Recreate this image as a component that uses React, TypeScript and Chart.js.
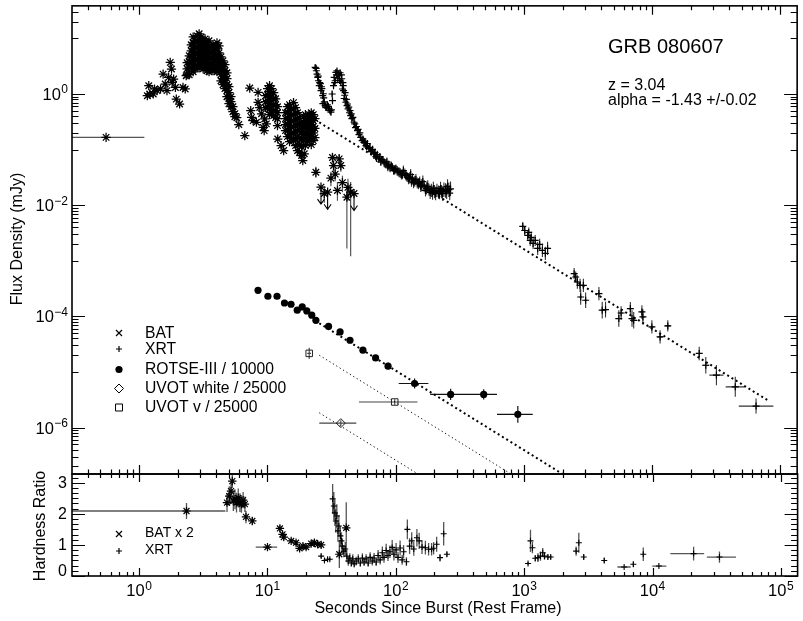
import React, { useEffect, useRef } from 'react';
import { Chart, registerables } from 'chart.js';

Chart.register(...registerables);

const FONT = '"Liberation Sans", Arial, Helvetica, sans-serif';
const W = 803;
const H = 621;

/* ---------------- axes ---------------- */
const timeMin = 0.3;
const timeMax = 1.35e5;
const timeMajorTicks = [1, 10, 100, 1e3, 1e4, 1e5];
const timeTickExponents = ['0', '1', '2', '3', '4', '5'];
const timeMinorMultipliers = [2, 3, 4, 5, 6, 7, 8, 9];

const fluxMin = 1.46e-7;
const fluxMax = 38.5;
const fluxMajorTicks = [1, 1e-2, 1e-4, 1e-6];
const fluxTickExponents = ['0', '\u22122', '\u22124', '\u22126'];
const fluxMinorDecades = [10, 0.1, 1e-3, 1e-5, 1e-7];

const hrMin = 0;
const hrMax = 3.28;
const hrMajorTicks = [0, 1, 2, 3];
const hrMinorSteps = 6;

/* ---------------- power-law decay fit ---------------- */
const fitAlpha = -1.43;
const fitAlphaErr = 0.02;
const redshift = 3.04;
const fitStart = 25.4; // s
const xrtFitNorm = 0.309; // mJy at fitStart
const xrtFitEnd = 7.9e4;
const rotseFitNorm = 0.752; // mJy at fitStart
const uvotVFitNorm = 0.5;
const uvotWhiteFitNorm = 0.046;
const opticalFitEnd = 1e5;

const rotseScale = 10000;
const uvotScale = 25000;
const batHardnessScale = 2;

/* ---------------- BAT flux (t [s], F [mJy]) ---------------- */
const batEarliest = { t: 0.553, tLo: 0.2, tHi: 1.1, flux: 0.166 };

const batFlux: [number, number][] = [
  [1.16, 0.93], [1.19, 1.41], [1.21, 1.0], [1.29, 1.0], [1.32, 1.23], [1.38, 1.15], [1.47, 1.23],
  [1.54, 2.28], [1.6, 1.51], [1.65, 1.15], [1.7, 1.99], [1.75, 3.7], [1.79, 2.81], [1.81, 1.62],
  [1.86, 1.86], [1.92, 1.31], [1.95, 0.81], [2.07, 0.66], [2.2, 1.31], [2.29, 1.23], [2.33, 2.13],
  [2.37, 3.65], [2.37, 2.84], [2.37, 2.22],
  [2.46, 4.87], [2.46, 3.8], [2.46, 2.96], [2.46, 2.22],
  [2.55, 7.67], [2.55, 5.99], [2.55, 4.67], [2.55, 3.65], [2.55, 2.84],
  [2.64, 10.6], [2.64, 8.33], [2.64, 6.5], [2.64, 5.07], [2.64, 3.96], [2.64, 3.09], [2.64, 2.51],
  [2.74, 9.05], [2.74, 7.07], [2.74, 5.51], [2.74, 4.3], [2.74, 3.36], [2.74, 2.84],
  [2.84, 11.1], [2.84, 8.68], [2.84, 6.78], [2.84, 5.29], [2.84, 4.13], [2.84, 3.22],
  [2.94, 12.1], [2.94, 9.43], [2.94, 7.36], [2.94, 5.75], [2.94, 4.48], [2.94, 3.5], [2.94, 2.96],
  [3.05, 10.6], [3.05, 8.33], [3.05, 6.5], [3.05, 5.07], [3.05, 3.96], [3.05, 3.09],
  [3.16, 9.05], [3.16, 7.07], [3.16, 5.51], [3.16, 4.3], [3.16, 3.36], [3.16, 2.84],
  [3.27, 9.8], [3.27, 7.67], [3.27, 5.99], [3.27, 4.67], [3.27, 3.65], [3.27, 2.96],
  [3.39, 8.33], [3.39, 6.5], [3.39, 5.07], [3.39, 3.96], [3.39, 3.09], [3.39, 2.62],
  [3.51, 9.05], [3.51, 7.07], [3.51, 5.51], [3.51, 4.3], [3.51, 3.36], [3.51, 2.51],
  [3.64, 7.36], [3.64, 5.75], [3.64, 4.48], [3.64, 3.5], [3.64, 2.84],
  [3.77, 7.67], [3.77, 5.99], [3.77, 4.67], [3.77, 3.65], [3.77, 2.62],
  [3.91, 6.78], [3.91, 5.29], [3.91, 4.13], [3.91, 3.22], [3.91, 2.73],
  [4.05, 8.33], [4.05, 6.5], [4.05, 5.07], [4.05, 3.96], [4.05, 3.09], [4.05, 2.51],
  [4.2, 7.36], [4.2, 5.51], [4.2, 4.3], [4.2, 3.36], [4.2, 2.73],
  [4.35, 4.67], [4.35, 3.65], [4.35, 2.84], [4.35, 2.22], [4.35, 1.73],
  [4.51, 3.96], [4.51, 3.09], [4.51, 2.41], [4.51, 1.88], [4.51, 1.47],
  [4.67, 3.36], [4.67, 2.62], [4.67, 2.05], [4.67, 1.59], [4.67, 1.25],
  [4.84, 2.41], [4.84, 1.88], [4.84, 1.47], [4.84, 1.15], [4.84, 0.894],
  [5.02, 1.35], [5.02, 1.06], [5.02, 0.82], [5.02, 0.67],
  [5.2, 0.894], [5.2, 0.73], [5.2, 0.59], [5.39, 0.59], [5.39, 0.48],
  [5.58, 0.443], [5.58, 0.39], [5.78, 0.375], [5.99, 0.282], [6.67, 0.178],
  [7.29, 1.28], [7.42, 0.501], [7.53, 0.38], [7.75, 0.332], [8.22, 0.31], [8.47, 1.07], [8.47, 0.71],
  [8.72, 0.57], [9.0, 0.44], [9.3, 0.25], [9.45, 0.219], [9.53, 0.355], [9.82, 0.29],
  [9.7, 0.932], [9.7, 0.73], [9.7, 0.57],
  [10.05, 1.25], [10.05, 0.971], [10.05, 0.758], [10.05, 0.59],
  [10.4, 1.41], [10.4, 1.1], [10.4, 0.858], [10.4, 0.67], [10.4, 0.523], [10.4, 0.425],
  [10.8, 1.25], [10.8, 0.971], [10.8, 0.758], [10.8, 0.59], [10.8, 0.46],
  [11.2, 1.06], [11.2, 0.82], [11.2, 0.644], [11.2, 0.501], [11.2, 0.408],
  [11.6, 0.82], [11.6, 0.644], [11.6, 0.501], [11.6, 0.375],
  [12.0, 0.59], [12.0, 0.46], [12.0, 0.361], [12.0, 0.27],
  [12.05, 0.155], [12.8, 0.118], [13.4, 0.096],
  [13.85, 0.46], [13.85, 0.361], [13.85, 0.282], [13.85, 0.219],
  [14.35, 0.59], [14.35, 0.46], [14.35, 0.361], [14.35, 0.282], [14.35, 0.219], [14.35, 0.171],
  [14.9, 0.644], [14.9, 0.501], [14.9, 0.39], [14.9, 0.306], [14.9, 0.24], [14.9, 0.186], [14.9, 0.139],
  [15.4, 0.545], [15.4, 0.425], [15.4, 0.332], [15.4, 0.259], [15.4, 0.2], [15.4, 0.157],
  [16.0, 0.7], [16.0, 0.545], [16.0, 0.425], [16.0, 0.332], [16.0, 0.259], [16.0, 0.2], [16.0, 0.145],
  [16.6, 0.568], [16.6, 0.443], [16.6, 0.346], [16.6, 0.27], [16.6, 0.21], [16.6, 0.157], [16.6, 0.118],
  [17.2, 0.46], [17.2, 0.361], [17.2, 0.282], [17.2, 0.219], [17.2, 0.164], [17.2, 0.123], [17.2, 0.096],
  [17.8, 0.361], [17.8, 0.282], [17.8, 0.219], [17.8, 0.164], [17.8, 0.123], [17.8, 0.0884],
  [18.5, 0.282], [18.5, 0.21], [18.5, 0.157], [18.5, 0.113], [18.5, 0.0781],
  [18.9, 0.0635], [19.4, 0.084],
  [19.1, 0.39], [19.1, 0.306], [19.1, 0.24], [19.1, 0.186], [19.1, 0.145],
  [19.8, 0.425], [19.8, 0.332], [19.8, 0.259], [19.8, 0.2], [19.8, 0.157], [19.8, 0.118],
  [20.5, 0.39], [20.5, 0.306], [20.5, 0.24], [20.5, 0.186], [20.5, 0.139],
  [21.3, 0.425], [21.3, 0.332], [21.3, 0.259], [21.3, 0.2], [21.3, 0.157],
  [22.0, 0.46], [22.0, 0.361], [22.0, 0.282], [22.0, 0.219], [22.0, 0.171], [22.0, 0.123],
  [22.8, 0.425], [22.8, 0.332], [22.8, 0.259], [22.8, 0.2], [22.8, 0.145],
  [23.5, 0.361], [23.5, 0.24], [23.5, 0.164],
];

// late BAT bins: t, F, F low, F high
const batLate: [number, number, number, number][] = [
  [23.9, 0.0391, 0.031, 0.049], [27.8, 0.0162, 0.011, 0.022], [31.3, 0.0307, 0.022, 0.04],
  [32.2, 0.072, 0.058, 0.088], [32.8, 0.0516, 0.04, 0.064], [33.8, 0.0362, 0.027, 0.047],
  [35.2, 0.0184, 0.012, 0.026], [36.3, 0.068, 0.055, 0.083], [37.4, 0.0516, 0.04, 0.064],
  [38.5, 0.0255, 0.017, 0.034], [41.7, 0.0139, 0.00167, 0.022], [42.5, 0.0209, 0.012, 0.03],
  [44.6, 0.0171, 0.0012, 0.026],
];
// BAT upper limits: t, F
const batLimits: [number, number][] = [[26.2, 0.0211], [29.5, 0.0171], [47.4, 0.0162]];

/* ---------------- XRT flux: t, F, flux error (dex), time error (dex) ---------------- */
const xrtFlux: number[][] = [
  [23.6, 3.0, 0.04], [24.0, 2.9, 0.04], [24.1, 2.62, 0.04], [24.4, 2.28, 0.04], [24.7, 1.99, 0.04],
  [24.9, 2.1, 0.04], [25.0, 1.73, 0.04], [25.4, 1.41, 0.04], [25.6, 1.6, 0.04], [25.9, 1.53, 0.04],
  [26.2, 1.15, 0.05], [26.4, 1.35, 0.05], [26.6, 1.25, 0.05], [27.0, 0.932, 0.05], [27.1, 0.67, 0.05],
  [27.3, 1.01, 0.05], [27.5, 0.85, 0.05], [27.8, 0.72, 0.05], [28.2, 0.62, 0.05], [28.6, 0.57, 0.05],
  [29.0, 0.58, 0.05], [29.4, 0.64, 0.05], [29.9, 0.6, 0.05], [30.4, 0.54, 0.05], [30.8, 0.5, 0.05],
  [31.3, 0.47, 0.05], [31.6, 0.52, 0.05], [32.0, 1.0, 0.05], [32.2, 0.758, 0.05], [32.8, 1.41, 0.04],
  [33.2, 1.99, 0.04], [33.5, 1.6, 0.04], [33.8, 1.73, 0.04], [34.2, 2.44, 0.04], [34.7, 2.21, 0.04],
  [34.9, 2.6, 0.04], [35.4, 1.88, 0.04], [35.8, 2.3, 0.04], [36.3, 2.13, 0.04], [36.6, 1.75, 0.04],
  [36.9, 2.41, 0.04], [37.4, 1.62, 0.04], [37.8, 2.2, 0.04], [38.0, 1.88, 0.04], [38.5, 1.23, 0.04],
  [38.8, 1.6, 0.04], [39.0, 1.41, 0.04], [39.3, 1.15, 0.04], [39.7, 0.83, 0.04], [40.1, 0.95, 0.04],
  [40.4, 1.06, 0.04], [40.9, 0.71, 0.04], [41.3, 0.8, 0.04], [41.8, 0.617, 0.04], [42.2, 0.66, 0.04],
  [42.6, 0.54, 0.04], [43.1, 0.58, 0.04], [43.7, 0.46, 0.04], [44.1, 0.5, 0.04], [44.6, 0.408, 0.05],
  [45.1, 0.44, 0.05], [45.6, 0.36, 0.05], [46.4, 0.38, 0.05], [47.4, 0.31, 0.05], [48.0, 0.29, 0.05],
  [48.7, 0.249, 0.05], [49.5, 0.26, 0.05], [50.4, 0.219, 0.05], [51.0, 0.23, 0.05], [51.8, 0.186, 0.05],
  [52.6, 0.2, 0.05], [53.4, 0.166, 0.05], [54.8, 0.145, 0.05], [55.6, 0.155, 0.05], [56.6, 0.135, 0.06],
  [57.6, 0.14, 0.06], [58.7, 0.118, 0.06], [59.5, 0.112, 0.06], [60.2, 0.128, 0.06], [61.9, 0.104, 0.06],
  [63.0, 0.11, 0.06], [64.2, 0.0915, 0.06], [65.2, 0.094, 0.06], [66.1, 0.101, 0.06], [67.7, 0.084, 0.07],
  [69.0, 0.088, 0.07], [70.2, 0.075, 0.07], [71.0, 0.07, 0.07], [72.0, 0.081, 0.07], [74.0, 0.068, 0.07],
  [75.4, 0.074, 0.07], [76.7, 0.06, 0.07], [78.0, 0.066, 0.07], [79.6, 0.065, 0.07], [81.5, 0.058, 0.08],
  [84.0, 0.055, 0.08], [85.5, 0.06, 0.08], [87.0, 0.049, 0.08], [88.4, 0.053, 0.08], [90.5, 0.047, 0.08],
  [92.5, 0.051, 0.08], [94.5, 0.0478, 0.08], [96.7, 0.042, 0.08], [98.5, 0.043, 0.08], [100.5, 0.045, 0.08],
  [103, 0.041, 0.09], [106, 0.0397, 0.09], [108.5, 0.038, 0.09], [111, 0.0356, 0.09], [113, 0.036, 0.09],
  [115, 0.042, 0.09], [118, 0.037, 0.09], [120.5, 0.0341, 0.09], [123, 0.032, 0.09], [126, 0.03, 0.1],
  [128.5, 0.031, 0.1], [131, 0.0356, 0.1], [133, 0.027, 0.1], [135.5, 0.0297, 0.1], [138, 0.0255, 0.1],
  [141, 0.027, 0.1], [144, 0.029, 0.1], [147.5, 0.025, 0.1], [151, 0.0243, 0.1], [154, 0.026, 0.1],
  [157, 0.0218, 0.1], [160, 0.023, 0.11], [163, 0.0266, 0.11], [167, 0.022, 0.11], [171, 0.0184, 0.11],
  [174.5, 0.02, 0.11], [178, 0.0218, 0.11], [182, 0.019, 0.11], [186, 0.017, 0.12], [190, 0.0185, 0.12],
  [194, 0.0165, 0.12], [197, 0.02, 0.12], [201, 0.0175, 0.12], [205, 0.0162, 0.12], [210, 0.0185, 0.12],
  [216, 0.0172, 0.12], [220, 0.0168, 0.12], [224, 0.02, 0.12], [228, 0.0175, 0.12], [232, 0.0162, 0.13],
  [238, 0.019, 0.13], [245, 0.0184, 0.13], [250, 0.0175, 0.13], [254, 0.0218, 0.13], [260, 0.019, 0.13],
  [264, 0.0165, 0.13], [268, 0.0197, 0.13],
  [980, 4.15e-3, 0.08, 0.006], [1015, 3.5e-3, 0.08, 0.006], [1072, 2.86e-3, 0.09, 0.006],
  [1091, 3.24e-3, 0.09, 0.006], [1120, 2.32e-3, 0.1, 0.006], [1140, 2.63e-3, 0.1, 0.006],
  [1180, 2.05e-3, 0.1, 0.006], [1225, 2.32e-3, 0.1, 0.006], [1281, 1.67e-3, 0.12, 0.008],
  [1327, 1.97e-3, 0.1, 0.008], [1395, 1.54e-3, 0.12, 0.008], [1470, 1.36e-3, 0.12, 0.01],
  [1530, 1.67e-3, 0.12, 0.01], [2465, 5.86e-4, 0.1, 0.01], [2535, 5.1e-4, 0.1, 0.01],
  [2612, 4.15e-4, 0.12, 0.01], [2742, 3.61e-4, 0.12, 0.01], [2772, 2.23e-4, 0.14, 0.01],
  [2909, 3.61e-4, 0.12, 0.01], [3030, 1.95e-4, 0.14, 0.012], [3846, 2.57e-4, 0.12, 0.012],
  [4080, 1.29e-4, 0.15, 0.012], [4330, 1.32e-4, 0.14, 0.012], [5496, 9.14e-5, 0.15, 0.015],
  [5728, 1.15e-4, 0.12, 0.015], [6761, 1.38e-4, 0.12, 0.015], [6966, 9.14e-5, 0.15, 0.015],
  [7178, 8.5e-5, 0.15, 0.015], [8322, 1.2e-4, 0.12, 0.015], [8472, 9.75e-5, 0.14, 0.015],
  [9951, 6.45e-5, 0.12, 0.018], [11530, 4.27e-5, 0.12, 0.02], [13240, 6.73e-5, 0.1, 0.02],
  [23270, 2.15e-5, 0.12, 0.02], [26190, 1.32e-5, 0.15, 0.025], [31690, 8.77e-6, 0.18, 0.055],
  [44460, 5.4e-6, 0.18, 0.075], [64570, 2.43e-6, 0.135, 0.135],
];

/* ---------------- optical: t, F [mJy], error (dex), t low, t high ---------------- */
const rotseFlux: number[][] = [
  [8.46, 2.94, 0.03], [10.1, 2.3, 0.03], [11.9, 2.3, 0.03], [13.6, 1.74, 0.03], [15.3, 1.65, 0.03],
  [17.1, 1.29, 0.03], [18.7, 1.48, 0.03], [20.3, 1.25, 0.03], [22.2, 1.05, 0.03], [23.9, 0.85, 0.03],
  [30.0, 0.66, 0.04], [36.9, 0.525, 0.04], [44.1, 0.372, 0.04], [55.6, 0.246, 0.05], [69.8, 0.179, 0.05],
  [87.3, 0.127, 0.06], [140.6, 0.062, 0.09, 105.7, 180], [268.5, 0.0395, 0.1, 186, 347],
  [486, 0.0395, 0.09, 347, 617], [897, 0.0173, 0.15, 617, 1172],
];
const uvotWhiteFlux: number[][] = [[37.4, 0.03, 0.05, 25.4, 49.4]];
const uvotVFlux: number[][] = [[21.2, 0.54, 0.1, 20.5, 21.9], [98.4, 0.072, 0.05, 51.8, 148]];

/* ---------------- hardness ratio: t, HR, error, t low, t high ---------------- */
const batHardness: number[][] = [
  [2.34, 1.045, 0.13, 0.2, 4.7],
  [4.84, 1.18, 0.15], [5.04, 1.285, 0.16], [5.2, 1.365, 0.15], [5.32, 1.525, 0.11], [5.42, 1.205, 0.16],
  [5.58, 1.235, 0.16], [5.74, 1.18, 0.16], [5.92, 1.255, 0.15], [6.1, 1.18, 0.15], [6.27, 1.155, 0.14],
  [6.46, 1.22, 0.13], [6.67, 1.155, 0.125], [6.8, 0.95, 0.1], [7.62, 0.885, 0.06],
  [10.0, 0.465, 0.025, 8.1, 11.9],
  [12.5, 0.765, 0.05], [13.1, 0.67, 0.05], [13.4, 0.625, 0.05], [15.3, 0.565, 0.04], [16.7, 0.535, 0.04],
  [17.8, 0.445, 0.045], [18.9, 0.48, 0.045], [20.0, 0.465, 0.045], [21.9, 0.52, 0.05], [23.2, 0.535, 0.05],
  [24.6, 0.51, 0.05], [26.2, 0.5, 0.05],
  [36.3, 0.35, 0.22], [41.1, 0.775, 0.41],
];
const xrtHardness: number[][] = [
  [26.2, 0.64, 0.06], [27.8, 0.5, 0.05], [29.4, 0.54, 0.05], [30.6, 0.54, 0.05],
  [32.2, 2.48, 0.48], [32.9, 2.25, 0.45], [33.5, 2.03, 0.42], [34.1, 1.77, 0.38], [34.7, 1.93, 0.38],
  [35.4, 1.45, 0.35], [36.0, 1.61, 0.35], [37.0, 1.29, 0.32], [37.7, 1.13, 0.28], [38.3, 0.96, 0.25],
  [39.3, 0.8, 0.2], [40.4, 0.87, 0.22], [41.5, 0.64, 0.2],
  [42.6, 0.48, 0.15], [43.8, 0.58, 0.15], [45.0, 0.42, 0.12], [46.2, 0.55, 0.15], [47.4, 0.39, 0.12],
  [49.1, 0.48, 0.14], [51.0, 0.55, 0.15], [52.9, 0.42, 0.12], [54.9, 0.58, 0.15], [56.6, 0.45, 0.13],
  [58.7, 0.55, 0.15], [60.9, 0.42, 0.12], [63.1, 0.6, 0.16], [65.5, 0.48, 0.14], [67.7, 0.58, 0.16],
  [70.3, 0.45, 0.13], [72.8, 0.66, 0.18], [75.5, 0.52, 0.15], [78.5, 0.75, 0.2], [80.9, 0.6, 0.17],
  [84.1, 0.82, 0.22], [86.9, 0.66, 0.18], [90.0, 0.78, 0.2], [93.7, 0.92, 0.24], [96.7, 0.7, 0.2],
  [100.5, 0.84, 0.22], [104, 0.6, 0.18], [108, 0.9, 0.24], [112, 0.52, 0.16], [115, 0.78, 0.22],
  [121, 0.46, 0.14], [123, 1.5, 0.32], [128, 0.96, 0.25], [133, 1.13, 0.28], [138, 0.87, 0.22],
  [146, 1.23, 0.28], [152, 1.13, 0.26], [160, 0.93, 0.22], [170, 0.91, 0.22], [180, 0.86, 0.2],
  [190, 0.86, 0.2], [197, 0.89, 0.2], [208, 1.02, 0.24], [221, 0.59, 0.12], [236, 1.36, 0.38],
  [250, 0.7, 0.08],
  [1072, 0.4, 0.05], [1120, 1.13, 0.36], [1160, 0.91, 0.18], [1220, 0.57, 0.1], [1281, 0.59, 0.14],
  [1340, 0.64, 0.15], [1395, 0.75, 0.15], [1440, 0.64, 0.12], [1530, 0.61, 0.08], [1610, 0.61, 0.06],
  [2540, 0.8, 0.15], [2665, 1.07, 0.32], [2910, 0.61, 0.08], [4207, 0.5, 0.08],
  [6010, 0.29, 0.02, 5333, 6756], [7090, 0.38, 0.08], [8472, 0.7, 0.22],
  [11210, 0.32, 0.02, 9950, 12830], [20900, 0.72, 0.22, 13770, 25250], [33240, 0.61, 0.18, 26500, 44670],
];

/* ---------------- derived tick lists ---------------- */
const timeMinorTicks = [0.1, 1, 10, 100, 1e3, 1e4, 1e5]
  .flatMap((d) => timeMinorMultipliers.map((m) => m * d))
  .filter((v) => v > timeMin * 1.001 && v < timeMax);
const fluxMinorTicks = fluxMinorDecades
  .flatMap((d) => [1, 2, 3, 4, 5, 6, 7, 8, 9].map((m) => m * d))
  .filter((v) => v > fluxMin && v < fluxMax);
const hrMinorTicks: number[] = [];
for (let k = 1; k / hrMinorSteps < hrMax; k++) {
  if (k % hrMinorSteps !== 0) hrMinorTicks.push(k / hrMinorSteps);
}

type Bar = [number, number, number, number];

const powerLaw = (norm: number, t: number) => norm * Math.pow(t / fitStart, fitAlpha);
const fitLine = (norm: number, tEnd: number) => [
  { x: fitStart, y: norm },
  { x: tEnd, y: powerLaw(norm, tEnd) },
];

// rows [t, F, errDex, tLo?, tHi?] scaled down by `scale`
function opticalSeries(rows: number[][], scale: number) {
  const data = rows.map((r) => ({ x: r[0], y: r[1] / scale }));
  const bars: Bar[] = rows.map((r) => {
    const y = r[1] / scale;
    const f = Math.pow(10, r[2]);
    return [r[3] ?? r[0], r[4] ?? r[0], y / f, y * f];
  });
  return { data, bars };
}

/* ---------------- drawing helpers ---------------- */
function drawPowerLabel(
  ctx: CanvasRenderingContext2D,
  exp: string,
  x: number,
  baseline: number,
  align: 'center' | 'right'
) {
  ctx.font = `16.5px ${FONT}`;
  const wb = ctx.measureText('10').width;
  ctx.font = `12px ${FONT}`;
  const we = ctx.measureText(exp).width;
  const total = wb + 0.5 + we;
  const x0 = align === 'center' ? x - total / 2 : x - total;
  ctx.textAlign = 'left';
  ctx.textBaseline = 'alphabetic';
  ctx.font = `16.5px ${FONT}`;
  ctx.fillText('10', x0, baseline);
  ctx.font = `12px ${FONT}`;
  ctx.fillText(exp, x0 + wb + 0.5, baseline - 6.5);
}

function timeTicks(ctx: CanvasRenderingContext2D, chart: any, major: number, minor: number) {
  const a = chart.chartArea;
  const xs = chart.scales.x;
  const tick = (v: number, len: number) => {
    const p = Math.round(xs.getPixelForValue(v)) + 0.5;
    ctx.moveTo(p, a.top);
    ctx.lineTo(p, a.top + len);
    ctx.moveTo(p, a.bottom);
    ctx.lineTo(p, a.bottom - len);
  };
  timeMajorTicks.forEach((v) => tick(v, major));
  timeMinorTicks.forEach((v) => tick(v, minor));
}

function valueTicks(
  ctx: CanvasRenderingContext2D,
  chart: any,
  majors: number[],
  minors: number[],
  major: number,
  minor: number
) {
  const a = chart.chartArea;
  const ys = chart.scales.y;
  const tick = (v: number, len: number) => {
    const p = Math.round(ys.getPixelForValue(v)) + 0.5;
    ctx.moveTo(a.left, p);
    ctx.lineTo(a.left + len, p);
    ctx.moveTo(a.right, p);
    ctx.lineTo(a.right - len, p);
  };
  majors.forEach((v) => tick(v, major));
  minors.forEach((v) => tick(v, minor));
}

function legendSymbol(ctx: CanvasRenderingContext2D, kind: string, x: number, y: number) {
  ctx.save();
  ctx.strokeStyle = '#000';
  ctx.fillStyle = '#000';
  ctx.lineWidth = 1.2;
  ctx.beginPath();
  if (kind === 'x') {
    ctx.moveTo(x - 3, y - 3);
    ctx.lineTo(x + 3, y + 3);
    ctx.moveTo(x + 3, y - 3);
    ctx.lineTo(x - 3, y + 3);
    ctx.stroke();
  } else if (kind === '+') {
    ctx.moveTo(x - 3, y);
    ctx.lineTo(x + 3, y);
    ctx.moveTo(x, y - 3);
    ctx.lineTo(x, y + 3);
    ctx.stroke();
  } else if (kind === 'dot') {
    ctx.arc(x, y, 3.6, 0, Math.PI * 2);
    ctx.fill();
  } else if (kind === 'diamond') {
    ctx.lineWidth = 1;
    ctx.moveTo(x, y - 4.5);
    ctx.lineTo(x + 4.5, y);
    ctx.lineTo(x, y + 4.5);
    ctx.lineTo(x - 4.5, y);
    ctx.closePath();
    ctx.stroke();
  } else if (kind === 'square') {
    ctx.lineWidth = 1;
    ctx.rect(x - 3.5, y - 3.5, 7, 7);
    ctx.stroke();
  }
  ctx.restore();
}

const fluxLegend = [
  { kind: 'x', label: 'BAT', y: 333 },
  { kind: '+', label: 'XRT', y: 349 },
  { kind: 'dot', label: 'ROTSE-III / 10000', y: 369.5 },
  { kind: 'diamond', label: 'UVOT white / 25000', y: 388.5 },
  { kind: 'square', label: 'UVOT v / 25000', y: 407.5 },
];
const hardnessLegend = [
  { kind: 'x', label: 'BAT x 2', y: 533 },
  { kind: '+', label: 'XRT', y: 550 },
];

/* ---------------- plugins ---------------- */
const errorBarPlugin = {
  id: 'errorBars',
  beforeDatasetsDraw(chart: any) {
    const { ctx, chartArea: a } = chart;
    const xs = chart.scales.x;
    const ys = chart.scales.y;
    ctx.save();
    ctx.beginPath();
    ctx.rect(a.left, a.top, a.right - a.left, a.bottom - a.top);
    ctx.clip();
    chart.data.datasets.forEach((ds: any) => {
      if (ds.errBars) {
        ctx.strokeStyle = ds.errColor || '#555';
        ctx.lineWidth = ds.errWidth || 1;
        ctx.beginPath();
        ds.errBars.forEach((b: Bar | null, i: number) => {
          if (!b) return;
          const p = ds.data[i];
          const px = xs.getPixelForValue(p.x);
          const py = ys.getPixelForValue(p.y);
          if (b[0] !== b[1]) {
            ctx.moveTo(xs.getPixelForValue(b[0]), py);
            ctx.lineTo(xs.getPixelForValue(b[1]), py);
          }
          if (b[2] !== b[3]) {
            ctx.moveTo(px, ys.getPixelForValue(b[2]));
            ctx.lineTo(px, ys.getPixelForValue(b[3]));
          }
        });
        ctx.stroke();
      }
      if (ds.limitArrow) {
        ctx.strokeStyle = '#000';
        ctx.lineWidth = 1.1;
        ctx.beginPath();
        ds.data.forEach((p: any) => {
          const px = xs.getPixelForValue(p.x);
          const py = ys.getPixelForValue(p.y);
          const tip = py + ds.limitArrow;
          ctx.moveTo(px, py);
          ctx.lineTo(px, tip);
          ctx.moveTo(px - 3.5, tip - 5);
          ctx.lineTo(px, tip);
          ctx.lineTo(px + 3.5, tip - 5);
        });
        ctx.stroke();
      }
    });
    ctx.restore();
  },
};

const fluxDecor = {
  id: 'fluxDecor',
  afterDraw(chart: any) {
    const { ctx, chartArea: a } = chart;
    const ys = chart.scales.y;
    ctx.save();
    ctx.strokeStyle = '#000';
    ctx.fillStyle = '#000';
    ctx.lineWidth = 1.2;
    ctx.beginPath();
    timeTicks(ctx, chart, 9, 4.5);
    valueTicks(ctx, chart, fluxMajorTicks, fluxMinorTicks, 13, 6.5);
    ctx.stroke();
    ctx.lineWidth = 1.6;
    ctx.strokeRect(a.left, a.top, a.right - a.left, a.bottom - a.top);

    fluxMajorTicks.forEach((v, i) => {
      drawPowerLabel(ctx, fluxTickExponents[i], a.left - 4, ys.getPixelForValue(v) + 6, 'right');
    });

    ctx.save();
    ctx.translate(17.5, 239);
    ctx.rotate(-Math.PI / 2);
    ctx.font = `16px ${FONT}`;
    ctx.textAlign = 'center';
    ctx.textBaseline = 'middle';
    ctx.fillText('Flux Density (mJy)', 0, 0);
    ctx.restore();

    ctx.textAlign = 'left';
    ctx.textBaseline = 'alphabetic';
    ctx.font = `20px ${FONT}`;
    ctx.fillText('GRB 080607', 608, 53);
    ctx.font = `16px ${FONT}`;
    ctx.fillText(`z = ${redshift.toFixed(2)}`, 608, 90);
    ctx.fillText(`alpha = ${fitAlpha.toFixed(2)} +/-${fitAlphaErr.toFixed(2)}`, 608, 105);

    ctx.font = `15.7px ${FONT}`;
    ctx.textBaseline = 'middle';
    fluxLegend.forEach((item) => {
      legendSymbol(ctx, item.kind, 119, item.y);
      ctx.fillText(item.label, 145, item.y + 0.5);
    });
    ctx.restore();
  },
};

const hardnessDecor = {
  id: 'hardnessDecor',
  afterDraw(chart: any) {
    const { ctx, chartArea: a } = chart;
    const xs = chart.scales.x;
    const ys = chart.scales.y;
    ctx.save();
    ctx.strokeStyle = '#000';
    ctx.fillStyle = '#000';
    ctx.lineWidth = 1.2;
    ctx.beginPath();
    timeTicks(ctx, chart, 8, 4);
    valueTicks(ctx, chart, hrMajorTicks, hrMinorTicks, 13, 6.5);
    ctx.stroke();
    ctx.lineWidth = 1.6;
    ctx.strokeRect(a.left, a.top, a.right - a.left, a.bottom - a.top);

    ctx.font = `16px ${FONT}`;
    ctx.textAlign = 'right';
    ctx.textBaseline = 'middle';
    hrMajorTicks.forEach((v) => {
      const y = Math.min(ys.getPixelForValue(v), a.bottom - 5);
      ctx.fillText(String(v), 67, y + 0.5);
    });

    timeMajorTicks.forEach((v, i) => {
      drawPowerLabel(ctx, timeTickExponents[i], xs.getPixelForValue(v), 596, 'center');
    });

    ctx.font = `16px ${FONT}`;
    ctx.textAlign = 'center';
    ctx.textBaseline = 'middle';
    ctx.fillText('Seconds Since Burst (Rest Frame)', 438, 609);

    ctx.save();
    ctx.translate(41, 526);
    ctx.rotate(-Math.PI / 2);
    ctx.fillText('Hardness Ratio', 0, 0);
    ctx.restore();

    ctx.font = `14px ${FONT}`;
    ctx.textAlign = 'left';
    ctx.textBaseline = 'middle';
    hardnessLegend.forEach((item) => {
      legendSymbol(ctx, item.kind, 119, item.y + 1);
      ctx.fillText(item.label, 145, item.y);
    });
    ctx.restore();
  },
};

/* ---------------- chart configs ---------------- */
function fluxConfig() {
  const rotse = opticalSeries(rotseFlux, rotseScale);
  const uvotW = opticalSeries(uvotWhiteFlux, uvotScale);
  const uvotV = opticalSeries(uvotVFlux, uvotScale);
  const xrtData = xrtFlux.map((r) => ({ x: r[0], y: r[1] }));
  const xrtBars: Bar[] = xrtFlux.map((r) => {
    const fy = Math.pow(10, r[2]);
    const fx = Math.pow(10, r[3] ?? 0);
    return [r[0] / fx, r[0] * fx, r[1] / fy, r[1] * fy];
  });
  const dotted = (data: any[], width: number, dash: number[]) => ({
    data,
    showLine: true,
    pointRadius: 0,
    borderColor: '#000',
    borderWidth: width,
    borderDash: dash,
    borderCapStyle: 'butt',
    fill: false,
  });
  return {
    type: 'scatter',
    data: {
      datasets: [
        {
          label: 'ROTSE-III / 10000',
          data: rotse.data,
          errBars: rotse.bars,
          errColor: '#111',
          errWidth: 1.2,
          pointStyle: 'circle',
          pointRadius: 3.6,
          pointBackgroundColor: '#000',
          pointBorderColor: '#000',
          pointBorderWidth: 0,
        },
        {
          label: 'UVOT v / 25000',
          data: uvotV.data,
          errBars: uvotV.bars,
          errColor: '#444',
          errWidth: 1.1,
          pointStyle: 'rect',
          pointRadius: 4.6,
          pointBackgroundColor: 'rgba(0,0,0,0)',
          pointBorderColor: '#222',
          pointBorderWidth: 1,
        },
        {
          label: 'UVOT white / 25000',
          data: uvotW.data,
          errBars: uvotW.bars,
          errColor: '#444',
          errWidth: 1.1,
          pointStyle: 'rectRot',
          pointRadius: 4.5,
          pointBackgroundColor: 'rgba(0,0,0,0)',
          pointBorderColor: '#222',
          pointBorderWidth: 1,
        },
        {
          label: 'XRT',
          data: xrtData,
          errBars: xrtBars,
          errColor: '#333',
          errWidth: 1.1,
          pointStyle: 'cross',
          pointRadius: 3.5,
          pointBorderColor: '#000',
          pointBorderWidth: 1.2,
        },
        {
          label: 'BAT',
          data: batFlux.map((r) => ({ x: r[0], y: r[1] })),
          pointStyle: 'star',
          pointRadius: 4.6,
          pointBorderColor: '#000',
          pointBorderWidth: 1.25,
        },
        {
          label: 'BAT late',
          data: [
            ...batLate.map((r) => ({ x: r[0], y: r[1] })),
            { x: batEarliest.t, y: batEarliest.flux },
          ],
          errBars: [
            ...batLate.map((r) => [r[0], r[0], r[2], r[3]] as Bar),
            [batEarliest.tLo, batEarliest.tHi, batEarliest.flux, batEarliest.flux] as Bar,
          ],
          errColor: '#555',
          errWidth: 1.2,
          pointStyle: 'star',
          pointRadius: 4.6,
          pointBorderColor: '#000',
          pointBorderWidth: 1.25,
        },
        {
          label: 'BAT upper limits',
          data: batLimits.map((r) => ({ x: r[0], y: r[1] })),
          limitArrow: 17,
          pointStyle: 'star',
          pointRadius: 4.6,
          pointBorderColor: '#000',
          pointBorderWidth: 1.25,
        },
        dotted(fitLine(xrtFitNorm, xrtFitEnd), 2, [2, 3]),
        dotted(fitLine(rotseFitNorm / rotseScale, opticalFitEnd), 2, [2, 3]),
        dotted(fitLine(uvotVFitNorm / uvotScale, opticalFitEnd), 1, [1.2, 2.8]),
        dotted(fitLine(uvotWhiteFitNorm / uvotScale, opticalFitEnd), 1, [1.2, 2.8]),
      ],
    },
    options: {
      animation: false,
      responsive: false,
      maintainAspectRatio: false,
      events: [],
      layout: { padding: { left: 72, top: 5, right: 3, bottom: 147 } },
      plugins: { legend: { display: false }, tooltip: { enabled: false } },
      scales: {
        x: { type: 'logarithmic', min: timeMin, max: timeMax, bounds: 'data', display: false },
        y: { type: 'logarithmic', min: fluxMin, max: fluxMax, bounds: 'data', display: false },
      },
    },
    plugins: [errorBarPlugin, fluxDecor],
  };
}

function hardnessConfig() {
  const batBars: Bar[] = batHardness.map((r) => [
    r[3] ?? r[0],
    r[4] ?? r[0],
    (r[1] - r[2]) * batHardnessScale,
    (r[1] + r[2]) * batHardnessScale,
  ]);
  const xrtBars: Bar[] = xrtHardness.map((r) => [r[3] ?? r[0], r[4] ?? r[0], r[1] - r[2], r[1] + r[2]]);
  return {
    type: 'scatter',
    data: {
      datasets: [
        {
          label: 'BAT x 2',
          data: batHardness.map((r) => ({ x: r[0], y: r[1] * batHardnessScale })),
          errBars: batBars,
          errColor: '#555',
          errWidth: 1.3,
          pointStyle: 'star',
          pointRadius: 4.2,
          pointBorderColor: '#000',
          pointBorderWidth: 1.2,
        },
        {
          label: 'XRT',
          data: xrtHardness.map((r) => ({ x: r[0], y: r[1] })),
          errBars: xrtBars,
          errColor: '#555',
          errWidth: 1.3,
          pointStyle: 'cross',
          pointRadius: 3,
          pointBorderColor: '#000',
          pointBorderWidth: 1.1,
        },
      ],
    },
    options: {
      animation: false,
      responsive: false,
      maintainAspectRatio: false,
      events: [],
      layout: { padding: { left: 72, top: 474, right: 3, bottom: 45 } },
      plugins: { legend: { display: false }, tooltip: { enabled: false } },
      scales: {
        x: { type: 'logarithmic', min: timeMin, max: timeMax, bounds: 'data', display: false },
        y: { type: 'linear', min: hrMin, max: hrMax, bounds: 'data', display: false },
      },
    },
    plugins: [errorBarPlugin, hardnessDecor],
  };
}

export default function App() {
  const fluxRef = useRef<HTMLCanvasElement | null>(null);
  const hardRef = useRef<HTMLCanvasElement | null>(null);

  useEffect(() => {
    if (!fluxRef.current || !hardRef.current) return;
    const fluxChart = new Chart(fluxRef.current, fluxConfig() as any);
    const hardChart = new Chart(hardRef.current, hardnessConfig() as any);
    return () => {
      fluxChart.destroy();
      hardChart.destroy();
    };
  }, []);

  const canvasStyle: React.CSSProperties = { position: 'absolute', left: 0, top: 0, width: W, height: H };
  return (
    <div style={{ position: 'absolute', left: 0, top: 0, width: W, height: H, background: '#fff' }}>
      <canvas ref={fluxRef} width={W} height={H} style={canvasStyle} />
      <canvas ref={hardRef} width={W} height={H} style={canvasStyle} />
    </div>
  );
}
